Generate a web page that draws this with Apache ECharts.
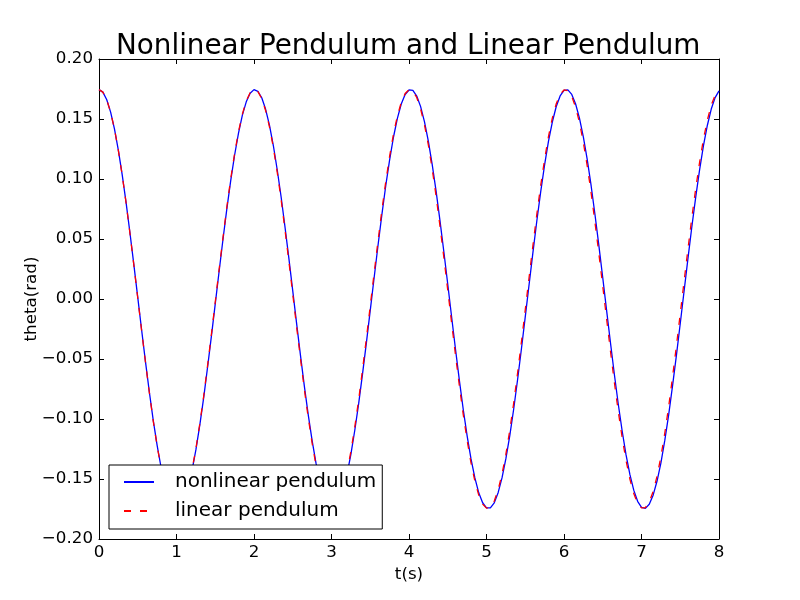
<!DOCTYPE html>
<html>
<head>
<meta charset="utf-8">
<script src="https://cdn.jsdelivr.net/npm/echarts@6/dist/echarts.min.js"></script>
<style>
  html, body { margin: 0; padding: 0; background: #fff; }
  #chart { width: 800px; height: 600px; }
</style>
</head>
<body>
<div id="chart"></div>
<script>
// time samples (s)
var times = [
  0.00, 0.05, 0.10, 0.15, 0.20, 0.25, 0.30, 0.35, 0.40, 0.45,
  0.50, 0.55, 0.60, 0.65, 0.70, 0.75, 0.80, 0.85, 0.90, 0.95,
  1.00, 1.05, 1.10, 1.15, 1.20, 1.25, 1.30, 1.35, 1.40, 1.45,
  1.50, 1.55, 1.60, 1.65, 1.70, 1.75, 1.80, 1.85, 1.90, 1.95,
  2.00, 2.05, 2.10, 2.15, 2.20, 2.25, 2.30, 2.35, 2.40, 2.45,
  2.50, 2.55, 2.60, 2.65, 2.70, 2.75, 2.80, 2.85, 2.90, 2.95,
  3.00, 3.05, 3.10, 3.15, 3.20, 3.25, 3.30, 3.35, 3.40, 3.45,
  3.50, 3.55, 3.60, 3.65, 3.70, 3.75, 3.80, 3.85, 3.90, 3.95,
  4.00, 4.05, 4.10, 4.15, 4.20, 4.25, 4.30, 4.35, 4.40, 4.45,
  4.50, 4.55, 4.60, 4.65, 4.70, 4.75, 4.80, 4.85, 4.90, 4.95,
  5.00, 5.05, 5.10, 5.15, 5.20, 5.25, 5.30, 5.35, 5.40, 5.45,
  5.50, 5.55, 5.60, 5.65, 5.70, 5.75, 5.80, 5.85, 5.90, 5.95,
  6.00, 6.05, 6.10, 6.15, 6.20, 6.25, 6.30, 6.35, 6.40, 6.45,
  6.50, 6.55, 6.60, 6.65, 6.70, 6.75, 6.80, 6.85, 6.90, 6.95,
  7.00, 7.05, 7.10, 7.15, 7.20, 7.25, 7.30, 7.35, 7.40, 7.45,
  7.50, 7.55, 7.60, 7.65, 7.70, 7.75, 7.80, 7.85, 7.90, 7.95,
  8.00
];

// theta (rad), nonlinear pendulum
var nonlinearTheta = [
  0.1745, 0.1724, 0.1660, 0.1557, 0.1415, 0.1239, 0.1032, 0.0801, 0.0548, 0.0285,
  0.0013, -0.0258, -0.0524, -0.0777, -0.1011, -0.1219, -0.1400, -0.1544, -0.1652, -0.1720,
  -0.1745, -0.1728, -0.1669, -0.1569, -0.1431, -0.1258, -0.1053, -0.0826, -0.0573, -0.0312,
  -0.0041, 0.0231, 0.0498, 0.0753, 0.0989, 0.1200, 0.1383, 0.1532, 0.1643, 0.1714,
  0.1745, 0.1731, 0.1677, 0.1581, 0.1447, 0.1277, 0.1075, 0.0850, 0.0600, 0.0339,
  0.0068, -0.0205, -0.0472, -0.0728, -0.0966, -0.1180, -0.1368, -0.1518, -0.1635, -0.1709,
  -0.1743, -0.1735, -0.1684, -0.1593, -0.1462, -0.1295, -0.1096, -0.0874, -0.0626, -0.0366,
  -0.0095, 0.0177, 0.0446, 0.0703, 0.0944, 0.1160, 0.1350, 0.1505, 0.1625, 0.1704,
  0.1742, 0.1738, 0.1691, 0.1603, 0.1476, 0.1313, 0.1118, 0.0897, 0.0651, 0.0392,
  0.0123, -0.0150, -0.0419, -0.0678, -0.0921, -0.1140, -0.1333, -0.1491, -0.1615, -0.1698,
  -0.1741, -0.1741, -0.1699, -0.1614, -0.1491, -0.1331, -0.1140, -0.0921, -0.0677, -0.0419,
  -0.0149, 0.0123, 0.0393, 0.0654, 0.0897, 0.1119, 0.1316, 0.1477, 0.1604, 0.1692,
  0.1738, 0.1743, 0.1705, 0.1625, 0.1505, 0.1349, 0.1161, 0.0944, 0.0702, 0.0445,
  0.0177, -0.0097, -0.0367, -0.0629, -0.0875, -0.1098, -0.1297, -0.1462, -0.1593, -0.1686,
  -0.1736, -0.1745, -0.1711, -0.1635, -0.1519, -0.1367, -0.1181, -0.0967, -0.0726, -0.0472,
  -0.0204, 0.0069, 0.0340, 0.0604, 0.0851, 0.1078, 0.1280, 0.1448, 0.1583, 0.1678,
  0.1734
];

// theta (rad), linear pendulum
var linearTheta = [
  0.1745, 0.1724, 0.1660, 0.1556, 0.1414, 0.1237, 0.1029, 0.0798, 0.0544, 0.0280,
  0.0008, -0.0264, -0.0530, -0.0783, -0.1017, -0.1225, -0.1405, -0.1548, -0.1655, -0.1722,
  -0.1745, -0.1726, -0.1665, -0.1563, -0.1423, -0.1248, -0.1042, -0.0813, -0.0559, -0.0296,
  -0.0025, 0.0248, 0.0514, 0.0769, 0.1004, 0.1214, 0.1395, 0.1541, 0.1650, 0.1718,
  0.1745, 0.1728, 0.1670, 0.1571, 0.1433, 0.1260, 0.1055, 0.0828, 0.0575, 0.0313,
  0.0041, -0.0232, -0.0499, -0.0754, -0.0990, -0.1202, -0.1386, -0.1533, -0.1645, -0.1715,
  -0.1744, -0.1731, -0.1675, -0.1578, -0.1442, -0.1271, -0.1068, -0.0842, -0.0591, -0.0329,
  -0.0057, 0.0215, 0.0483, 0.0739, 0.0977, 0.1190, 0.1375, 0.1525, 0.1639, 0.1712,
  0.1744, 0.1733, 0.1679, 0.1584, 0.1451, 0.1282, 0.1081, 0.0856, 0.0606, 0.0345,
  0.0074, -0.0199, -0.0467, -0.0724, -0.0963, -0.1178, -0.1365, -0.1517, -0.1634, -0.1709,
  -0.1743, -0.1735, -0.1684, -0.1591, -0.1460, -0.1293, -0.1095, -0.0871, -0.0622, -0.0361,
  -0.0090, 0.0183, 0.0451, 0.0710, 0.0949, 0.1165, 0.1355, 0.1509, 0.1627, 0.1706,
  0.1742, 0.1736, 0.1688, 0.1598, 0.1469, 0.1304, 0.1108, 0.0885, 0.0637, 0.0377,
  0.0107, -0.0167, -0.0436, -0.0695, -0.0936, -0.1153, -0.1344, -0.1500, -0.1621, -0.1703,
  -0.1741, -0.1738, -0.1692, -0.1605, -0.1478, -0.1315, -0.1120, -0.0899, -0.0652, -0.0393,
  -0.0123, 0.0150, 0.0420, 0.0680, 0.0922, 0.1141, 0.1334, 0.1492, 0.1615, 0.1698,
  0.1740
];

var seriesNames = ['nonlinear pendulum', 'linear pendulum'];

function pairs(ys) {
  return ys.map(function (y, i) { return [times[i], y]; });
}

var font = 'DejaVu Sans';
var chart = echarts.init(document.getElementById('chart'));

var tickStyle = { inside: true, length: 5, lineStyle: { color: '#000', width: 1 } };
var lineStyle = { lineStyle: { color: '#000', width: 1 }, onZero: false };

var option = {
  animation: false,
  backgroundColor: '#fff',
  title: {
    text: 'Nonlinear Pendulum and Linear Pendulum',
    left: 116,
    top: 33,
    padding: 0,
    textStyle: { fontFamily: font, fontSize: 27.8, fontWeight: 'normal', color: '#000' }
  },
  grid: { left: 99, right: 81, top: 59, bottom: 61 },
  legend: {
    orient: 'vertical',
    left: 109,
    top: 465,
    padding: [7, 6, 8, 14],
    itemGap: 9,
    itemWidth: 30,
    itemHeight: 14,
    borderColor: '#000',
    borderWidth: 1,
    borderRadius: 0,
    backgroundColor: '#fff',
    data: seriesNames,
    itemStyle: { opacity: 0 },
    textStyle: { fontFamily: font, fontSize: 20, lineHeight: 20, color: '#000', padding: [0, 0, 0, 16] }
  },
  xAxis: [{
    type: 'value',
    min: 0,
    max: 8,
    interval: 1,
    name: 't(s)',
    nameLocation: 'middle',
    nameGap: 21,
    nameTextStyle: { fontFamily: font, fontSize: 16.7, color: '#000' },
    axisLine: lineStyle,
    axisTick: tickStyle,
    axisLabel: { fontFamily: font, fontSize: 16.7, color: '#000', margin: 5 },
    splitLine: { show: false }
  }, {
    type: 'value',
    position: 'top',
    min: 0,
    max: 8,
    interval: 1,
    axisLine: lineStyle,
    axisTick: tickStyle,
    axisLabel: { show: false },
    splitLine: { show: false }
  }],
  yAxis: [{
    type: 'value',
    min: -0.2,
    max: 0.2,
    interval: 0.05,
    name: 'theta(rad)',
    nameLocation: 'middle',
    nameGap: 59,
    nameMoveOverlap: false,
    nameTextStyle: { fontFamily: font, fontSize: 16.7, color: '#000' },
    axisLine: lineStyle,
    axisTick: tickStyle,
    axisLabel: {
      fontFamily: font, fontSize: 16.7, color: '#000', margin: 6,
      formatter: function (v) {
        var s = Math.abs(v).toFixed(2);
        return (v < -1e-9 ? '\u2212' : '') + s;
      }
    },
    splitLine: { show: false }
  }, {
    type: 'value',
    position: 'right',
    min: -0.2,
    max: 0.2,
    interval: 0.05,
    axisLine: lineStyle,
    axisTick: tickStyle,
    axisLabel: { show: false },
    splitLine: { show: false }
  }],
  series: [{
    name: seriesNames[0],
    type: 'line',
    xAxisIndex: 0,
    yAxisIndex: 0,
    data: pairs(nonlinearTheta),
    symbol: 'none',
    lineStyle: { color: '#0000ff', width: 1.3 },
    itemStyle: { color: '#0000ff' }
  }, {
    name: seriesNames[1],
    type: 'line',
    xAxisIndex: 0,
    yAxisIndex: 0,
    data: pairs(linearTheta),
    symbol: 'none',
    lineStyle: { color: '#ff0000', width: 1.3, type: [7, 9] },
    itemStyle: { color: '#ff0000' }
  }]
};

chart.setOption(option);
</script>
</body>
</html>
